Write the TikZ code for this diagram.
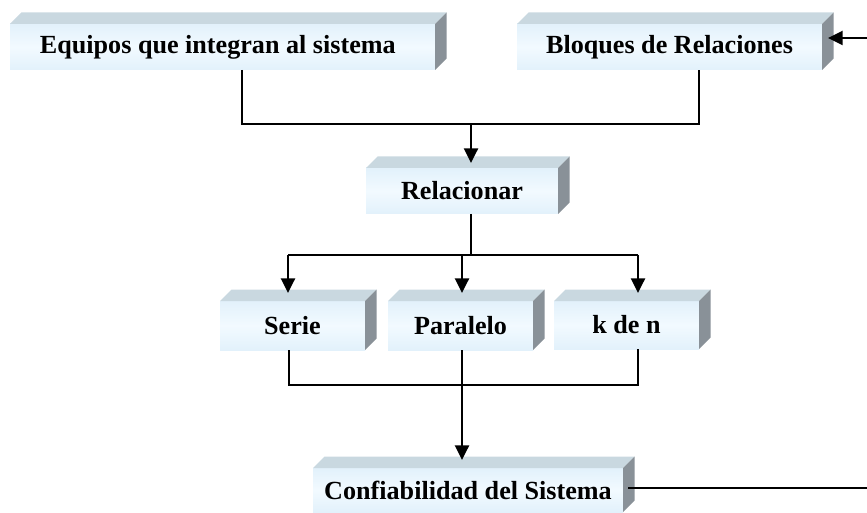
\documentclass[tikz,border=0pt]{standalone}
\usepackage{fontspec}
\setmainfont{Liberation Serif}
\usetikzlibrary{arrows.meta}
\definecolor{frontA}{RGB}{226,241,251}
\definecolor{frontB}{RGB}{242,250,255}
\definecolor{topC}{RGB}{201,216,224}
\definecolor{sideC}{RGB}{137,145,152}
\newcommand\cubedepth{11.5}
\newcommand\cubo[6]{%
  \node[frontbox, minimum width={(#4-#2)*0.75pt}, minimum height={(#5-#3)*0.75pt}]
    (#1) at ({(#2+#4)/2},{(#3+#5)/2}) {#6};
  \fill[topC] (#1.north west) -- ++(\cubedepth,-\cubedepth)
    -- ([shift={(\cubedepth,-\cubedepth)}]#1.north east) -- (#1.north east) -- cycle;
  \fill[sideC] (#1.north east) -- ++(\cubedepth,-\cubedepth)
    -- ([shift={(\cubedepth,-\cubedepth)}]#1.south east) -- (#1.south east) -- cycle;
}
\tikzset{
  frontbox/.style={inner sep=0pt, outer sep=0pt, top color=frontA, bottom color=frontA,
    middle color=frontB, font=\fontsize{19.6}{21}\selectfont\bfseries, text=black},
  conn/.style={line width=1.8pt, draw=black},
  arr/.style={conn, -{Triangle[length=11pt,width=10.5pt]}}
}
\begin{document}
\begin{tikzpicture}[x=0.75pt,y=-0.75pt]
\useasboundingbox (0,0) rectangle (867,513);
\clip (0,0) rectangle (867,513);
\cubo{eq}{10}{24}{435}{70}{\hspace*{-7pt}Equipos que integran al sistema}
\cubo{bl}{517}{24}{822}{70}{Bloques de Relaciones}
\cubo{rel}{366}{168}{558}{214}{Relacionar}
\cubo{se}{220}{301}{365}{350}{Serie}
\cubo{pa}{388}{301}{533}{350}{Paralelo}
\cubo{kn}{554}{301}{699}{349}{k de n}
\cubo{co}{313}{468}{623}{512}{Confiabilidad del Sistema}
% junction coordinates
\coordinate (j1) at (242,124);
\coordinate (j2) at (699,124);
\coordinate (j3) at (471,124);
\coordinate (j4) at (471,255);
\coordinate (b1) at (288,255);
\coordinate (b2) at (462,255);
\coordinate (b3) at (638,255);
\coordinate (c1) at (289,385);
\coordinate (c2) at (638,385);
\coordinate (c3) at (462,350);
\coordinate (fb1) at (871,488);
\coordinate (fb2) at (871,38);
% top merge
\draw[conn] (eq.south -| j1) -- (j1) -- (j2) -- (bl.south -| j2);
\draw[arr] (j3) -- ([yshift=3.75pt]rel.north -| j3);
% branch
\draw[conn] (rel.south -| j4) -- (j4);
\draw[conn] (b1) -- (b3);
\draw[arr] (b1) -- ([yshift=6pt]se.north -| b1);
\draw[arr] (b2) -- ([yshift=6pt]pa.north -| b2);
\draw[arr] (b3) -- ([yshift=6pt]kn.north -| b3);
% merge
\draw[conn] (se.south -| c1) -- (c1) -- (c2) -- (kn.south -| c2);
\draw[arr] (pa.south -| c3) -- ([yshift=6pt]co.north -| c3);
% feedback
\draw[arr] ([xshift=3.75pt,yshift=1.5pt]co.east) -- (fb1) -- (fb2) -- ([xshift=4.5pt]bl.east |- fb2);
\end{tikzpicture}
\end{document}
